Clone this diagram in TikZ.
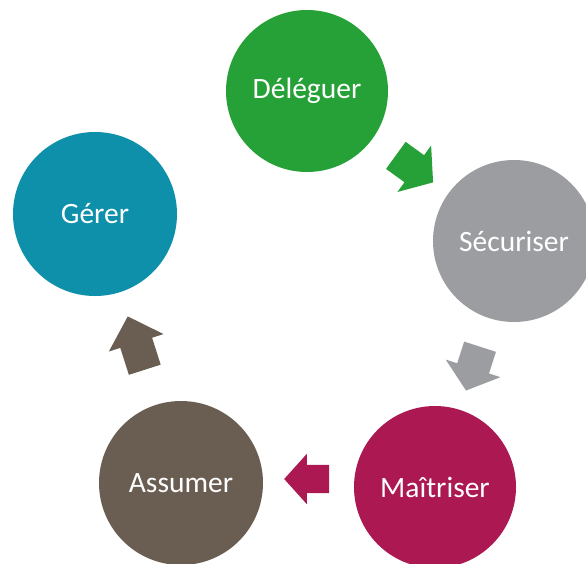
\documentclass[tikz,border=0pt]{standalone}
\usepackage{fontspec}
\setmainfont{Carlito}
\usetikzlibrary{shapes.arrows,calc}
\definecolor{cgreen}{RGB}{38,161,55}
\definecolor{cgray}{RGB}{155,157,160}
\definecolor{cmag}{RGB}{171,24,82}
\definecolor{cbrown}{RGB}{106,94,83}
\definecolor{cteal}{RGB}{14,143,170}
\begin{document}
\begin{tikzpicture}[x=1pt,y=-1pt,
  disc/.style={circle, minimum size=#1, inner sep=0pt, text=white,
    font=\fontsize{29.5}{35}\selectfont},
  disc/.default=162pt,
  blockarrow/.style={single arrow, draw=none, inner xsep=0pt, inner ysep=16.5pt,
    minimum height=46pt, single arrow head extend=12pt, single arrow tip angle=102,
    sloped, allow upside down}]
\useasboundingbox (0,0) rectangle (586,563);
\clip (0,0) rectangle (586,563);
\fill[white] (0,0) rectangle (586,563);
\node[disc, fill=cgreen] (del) at (307,91) {Déléguer};
\node[disc, fill=cgray] (sec) at (514,241) {Sécuriser};
\node[disc, fill=cmag] (mai) at (435,487) {Maîtriser};
\node[disc=164pt, fill=cbrown] (ass) at (181,483) {Assumer};
\node[disc=164pt, fill=cteal] (ger) at (95,214) {Gérer};
\path (del) -- node[pos=0.48, blockarrow, fill=cgreen] (a1) {} (sec);
\path (sec) -- node[pos=0.48, blockarrow, fill=cgray] (a2) {} (mai);
\path ($(mai)+(0,-8)$) -- node[pos=0.48, blockarrow, fill=cmag, inner ysep=14pt, minimum height=45pt, single arrow head extend=11pt, single arrow tip angle=96] (a3) {} ($(ass)+(0,-4)$);
\path (ass) -- node[pos=0.48, blockarrow, fill=cbrown, minimum height=56pt, single arrow tip angle=92] (a4) {} (ger);
\end{tikzpicture}
\end{document}
